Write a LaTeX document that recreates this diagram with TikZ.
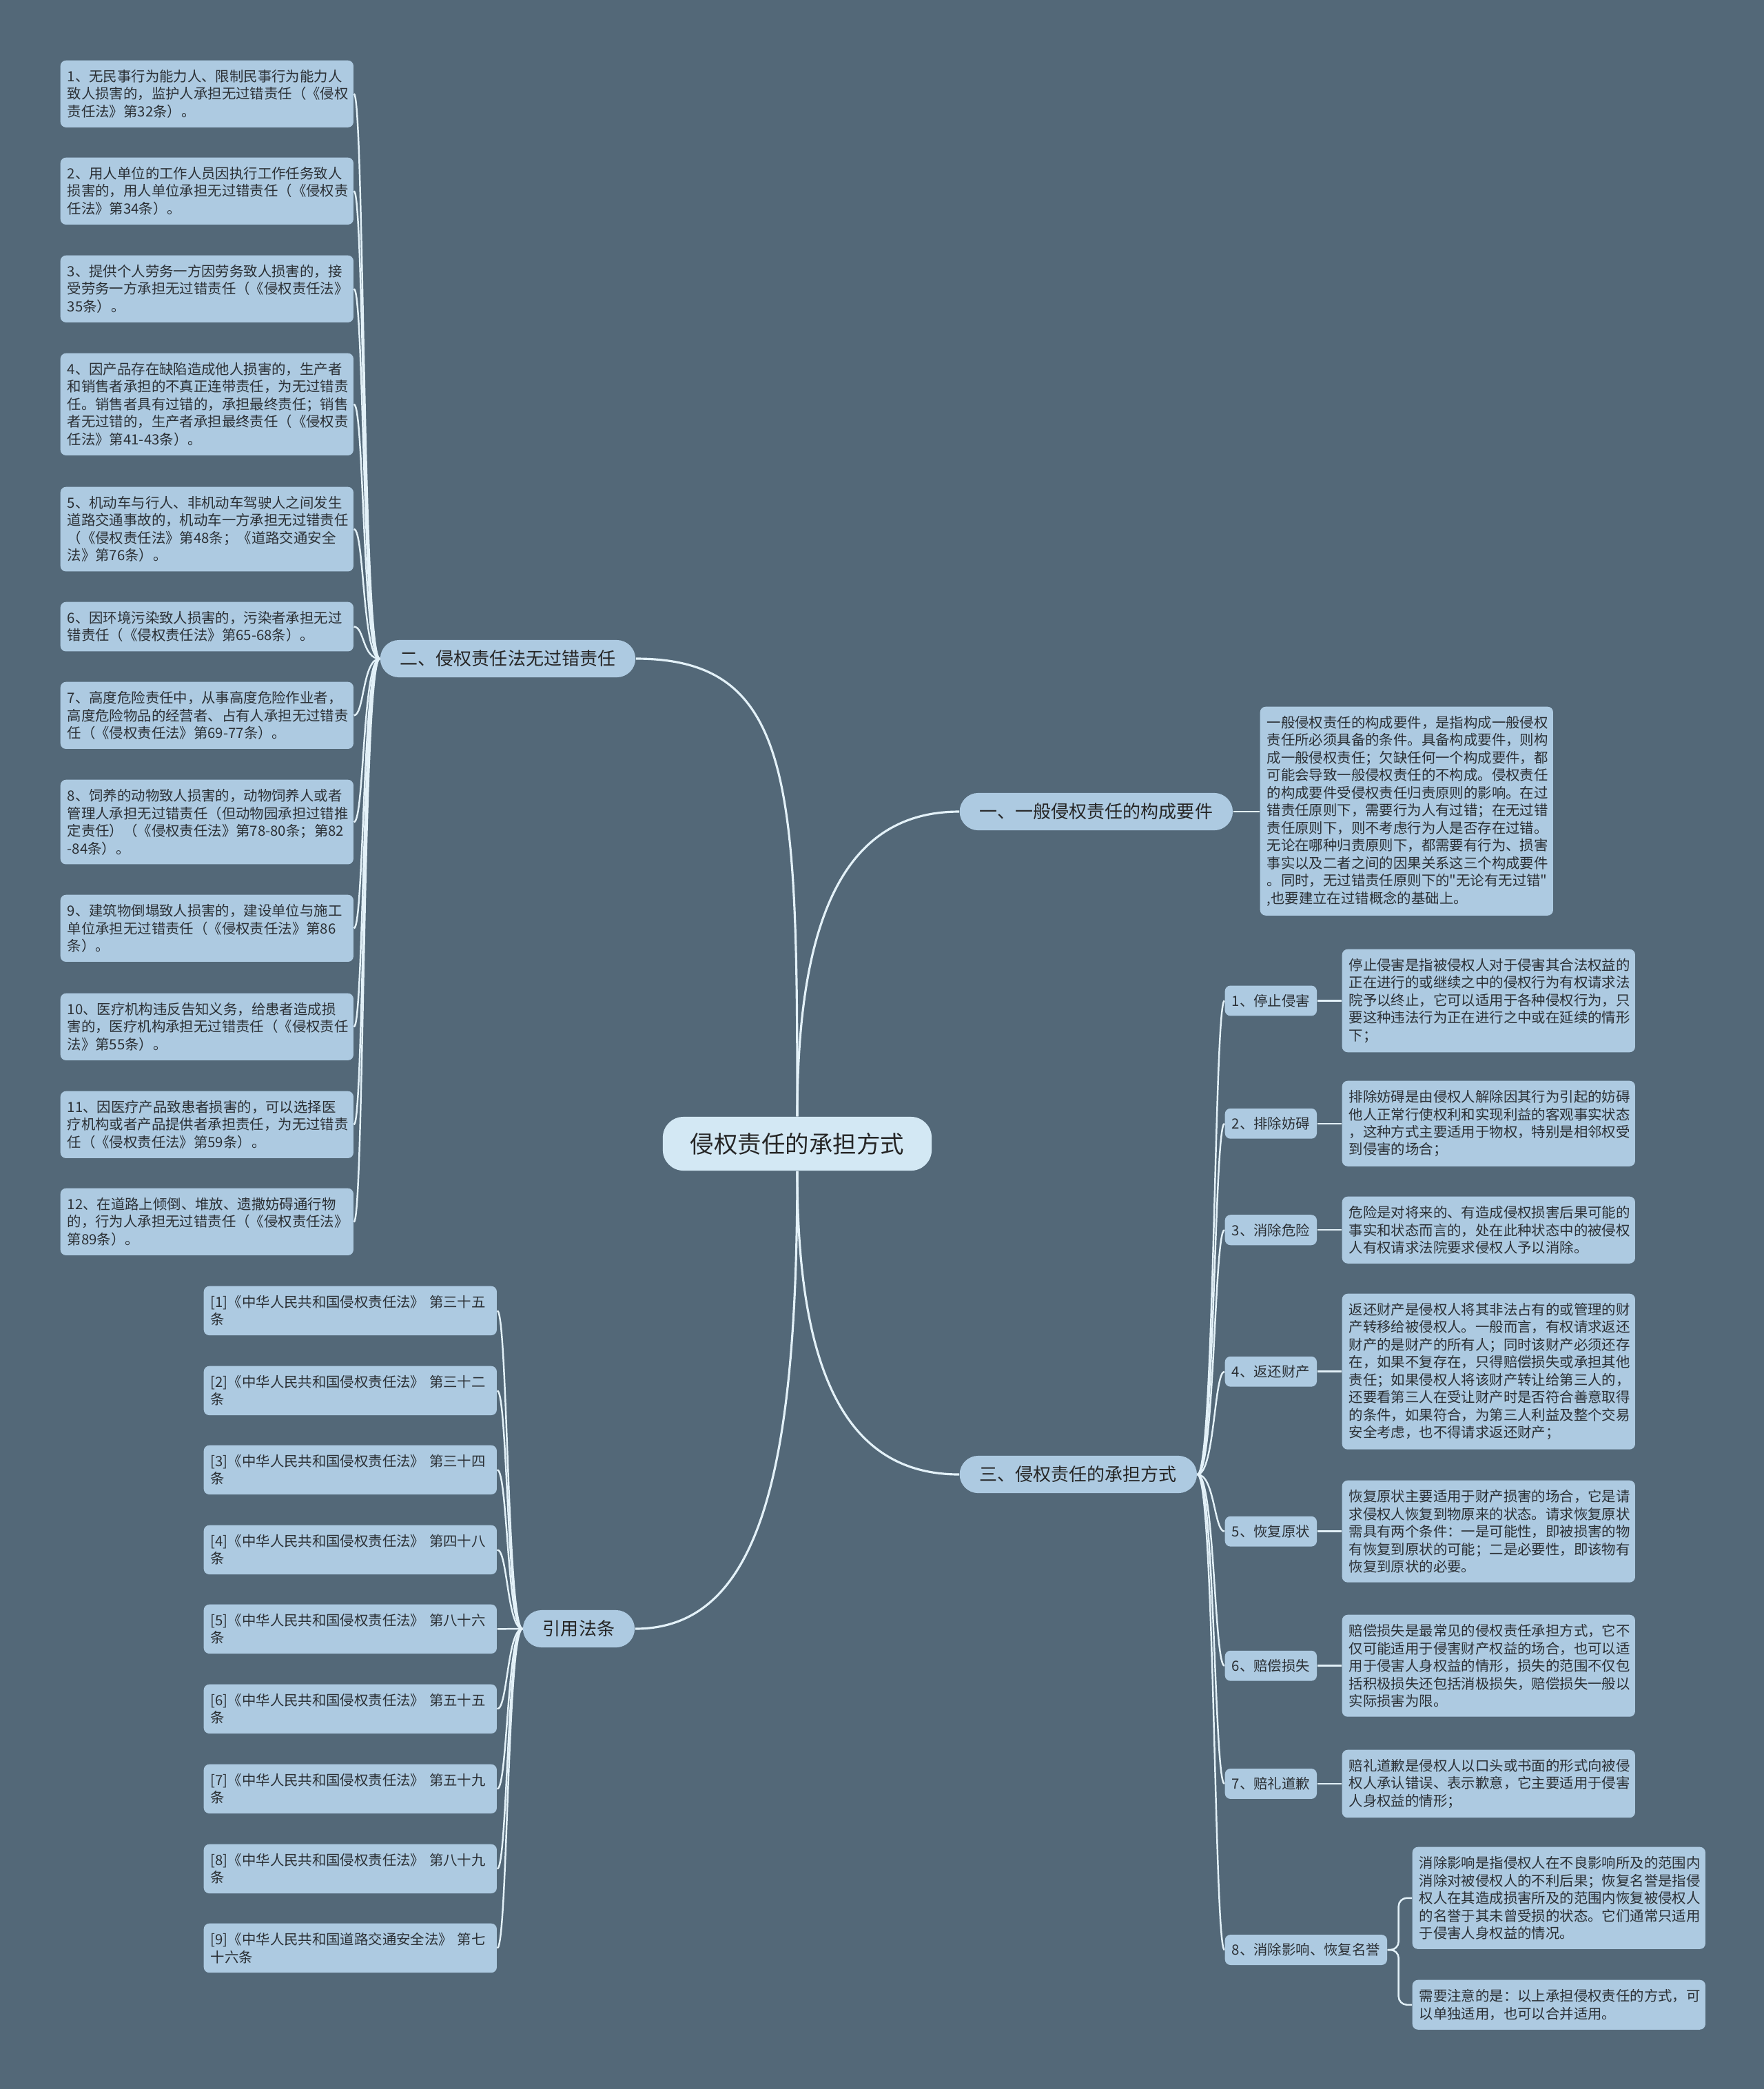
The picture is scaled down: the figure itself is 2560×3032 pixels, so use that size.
\documentclass[tikz,border=0pt]{standalone}
\usepackage{fontspec}
\setmainfont{Noto Sans CJK SC}
\usetikzlibrary{calc}

\definecolor{bgslate}{HTML}{536878}
\definecolor{boxblue}{HTML}{ADCAE1}
\definecolor{rootblue}{HTML}{D3E8F4}
\definecolor{linecol}{HTML}{E3F1F8}
\definecolor{inkgray}{HTML}{2B3035}

\newcommand\straightq{\XeTeXglyph\XeTeXcharglyph34\relax}

\tikzset{
	leafbox/.style={fill=boxblue, rounded corners=0.08cm, text=inkgray, font=\fontsize{5.8}{7.25}\selectfont,
		align=left, text width=4.05cm, inner xsep=0.1cm, inner ysep=0.135cm, anchor=north west},
	tagbox/.style={fill=boxblue, rounded corners=0.08cm, text=inkgray, font=\fontsize{5.8}{7.25}\selectfont,
		inner xsep=0.1cm, inner ysep=0.125cm, anchor=west},
	branchbox/.style={fill=boxblue, rounded corners=0.27cm, text=black!85, font=\fontsize{7.4}{9}\selectfont,
		inner xsep=0.29cm, inner ysep=0.15cm},
	rootbox/.style={fill=rootblue, rounded corners=0.3cm, text=black!85, font=\fontsize{9.8}{12}\selectfont,
		inner xsep=0.4cm, inner ysep=0.23cm},
	trunkline/.style={draw=linecol, line width=0.9pt},
	twigline/.style={draw=linecol, line width=0.7pt},
}

\begin{document}
\begin{tikzpicture}[x=0.01cm, y=-0.01cm]
		%%%%% START %%%%%
		\fill[bgslate] (0,0) rectangle (2560,3032);
		\useasboundingbox (0,0) rectangle (2560,3032);
		
		\node[rootbox] (root) at (1157,1660) {侵权责任的承担方式};
		
		\node[branchbox] (b2) at (737,956) {二、侵权责任法无过错责任};
		\node[branchbox, anchor=west] (b1) at (1392,1178) {一、一般侵权责任的构成要件};
		\node[branchbox, anchor=west] (b3) at (1392,2140) {三、侵权责任的承担方式};
		\node[branchbox] (refs) at (840,2364) {引用法条};
		
		\draw[trunkline] (root.north) .. controls +(0,-480) and +(230,0) .. (b2.east);
		\draw[trunkline] (root.north) .. controls +(0,-300) and +(-160,0) .. (b1.west);
		\draw[trunkline] (root.south) .. controls +(0,300) and +(-160,0) .. (b3.west);
		\draw[trunkline] (root.south) .. controls +(0,440) and +(180,0) .. (refs.east);
		
		% no-fault cases
		\node[leafbox] (n1) at (87,87) {1、无民事行为能力人、限制民事行为能力人\\致人损害的，监护人承担无过错责任（《侵权\\责任法》第32条）。};
		\node[leafbox] (n2) at (87,228) {2、用人单位的工作人员因执行工作任务致人\\损害的，用人单位承担无过错责任（《侵权责\\任法》第34条）。};
		\node[leafbox] (n3) at (87,370) {3、提供个人劳务一方因劳务致人损害的，接\\受劳务一方承担无过错责任（《侵权责任法》\\35条）。};
		\node[leafbox] (n4) at (87,512) {4、因产品存在缺陷造成他人损害的，生产者\\和销售者承担的不真正连带责任，为无过错责\\任。销售者具有过错的，承担最终责任；销售\\者无过错的，生产者承担最终责任（《侵权责\\任法》第41-43条）。};
		\node[leafbox] (n5) at (87,706) {5、机动车与行人、非机动车驾驶人之间发生\\道路交通事故的，机动车一方承担无过错责任\\（《侵权责任法》第48条；《道路交通安全\\法》第76条）。};
		\node[leafbox] (n6) at (87,873) {6、因环境污染致人损害的，污染者承担无过\\错责任（《侵权责任法》第65-68条）。};
		\node[leafbox] (n7) at (87,989) {7、高度危险责任中，从事高度危险作业者，\\高度危险物品的经营者、占有人承担无过错责\\任（《侵权责任法》第69-77条）。};
		\node[leafbox] (n8) at (87,1131) {8、饲养的动物致人损害的，动物饲养人或者\\管理人承担无过错责任（但动物园承担过错推\\定责任）（《侵权责任法》第78-80条；第82\\-84条）。};
		\node[leafbox] (n9) at (87,1298) {9、建筑物倒塌致人损害的，建设单位与施工\\单位承担无过错责任（《侵权责任法》第86\\条）。};
		\node[leafbox] (n10) at (87,1441) {10、医疗机构违反告知义务，给患者造成损\\害的，医疗机构承担无过错责任（《侵权责任\\法》第55条）。};
		\node[leafbox] (n11) at (87,1583) {11、因医疗产品致患者损害的，可以选择医\\疗机构或者产品提供者承担责任，为无过错责\\任（《侵权责任法》第59条）。};
		\node[leafbox] (n12) at (87,1724) {12、在道路上倾倒、堆放、遗撒妨碍通行物\\的，行为人承担无过错责任（《侵权责任法》\\第89条）。};
		
		\draw[twigline] (b2.west) .. controls +(-25,0) and +(15,0) .. (n1.east);
		\draw[twigline] (b2.west) .. controls +(-25,0) and +(15,0) .. (n2.east);
		\draw[twigline] (b2.west) .. controls +(-25,0) and +(15,0) .. (n3.east);
		\draw[twigline] (b2.west) .. controls +(-25,0) and +(15,0) .. (n4.east);
		\draw[twigline] (b2.west) .. controls +(-25,0) and +(15,0) .. (n5.east);
		\draw[twigline] (b2.west) .. controls +(-25,0) and +(15,0) .. (n6.east);
		\draw[twigline] (b2.west) .. controls +(-25,0) and +(15,0) .. (n7.east);
		\draw[twigline] (b2.west) .. controls +(-25,0) and +(15,0) .. (n8.east);
		\draw[twigline] (b2.west) .. controls +(-25,0) and +(15,0) .. (n9.east);
		\draw[twigline] (b2.west) .. controls +(-25,0) and +(15,0) .. (n10.east);
		\draw[twigline] (b2.west) .. controls +(-25,0) and +(15,0) .. (n11.east);
		\draw[twigline] (b2.west) .. controls +(-25,0) and +(15,0) .. (n12.east);
		
		% general tort elements
		\node[leafbox] (dg) at (1828,1025) {一般侵权责任的构成要件，是指构成一般侵权\\责任所必须具备的条件。具备构成要件，则构\\成一般侵权责任；欠缺任何一个构成要件，都\\可能会导致一般侵权责任的不构成。侵权责任\\的构成要件受侵权责任归责原则的影响。在过\\错责任原则下，需要行为人有过错；在无过错\\责任原则下，则不考虑行为人是否存在过错。\\无论在哪种归责原则下，都需要有行为、损害\\事实以及二者之间的因果关系这三个构成要件\\。同时，无过错责任原则下的\straightq 无论有无过错\straightq\\,也要建立在过错概念的基础上。};
		\draw[twigline] (b1.east) -- (b1.east -| dg.west);
		
		% ways of bearing liability
		\node[leafbox] (d1) at (1947,1377) {停止侵害是指被侵权人对于侵害其合法权益的\\正在进行的或继续之中的侵权行为有权请求法\\院予以终止，它可以适用于各种侵权行为，只\\要这种违法行为正在进行之中或在延续的情形\\下；};
		\node[leafbox] (d2) at (1947,1568) {排除妨碍是由侵权人解除因其行为引起的妨碍\\他人正常行使权利和实现利益的客观事实状态\\，这种方式主要适用于物权，特别是相邻权受\\到侵害的场合；};
		\node[leafbox] (d3) at (1947,1736) {危险是对将来的、有造成侵权损害后果可能的\\事实和状态而言的，处在此种状态中的被侵权\\人有权请求法院要求侵权人予以消除。};
		\node[leafbox] (d4) at (1947,1877) {返还财产是侵权人将其非法占有的或管理的财\\产转移给被侵权人。一般而言，有权请求返还\\财产的是财产的所有人；同时该财产必须还存\\在，如果不复存在，只得赔偿损失或承担其他\\责任；如果侵权人将该财产转让给第三人的，\\还要看第三人在受让财产时是否符合善意取得\\的条件，如果符合，为第三人利益及整个交易\\安全考虑，也不得请求返还财产；};
		\node[leafbox] (d5) at (1947,2148) {恢复原状主要适用于财产损害的场合，它是请\\求侵权人恢复到物原来的状态。请求恢复原状\\需具有两个条件：一是可能性，即被损害的物\\有恢复到原状的可能；二是必要性，即该物有\\恢复到原状的必要。};
		\node[leafbox] (d6) at (1947,2343) {赔偿损失是最常见的侵权责任承担方式，它不\\仅可能适用于侵害财产权益的场合，也可以适\\用于侵害人身权益的情形，损失的范围不仅包\\括积极损失还包括消极损失，赔偿损失一般以\\实际损害为限。};
		\node[leafbox] (d7) at (1947,2539) {赔礼道歉是侵权人以口头或书面的形式向被侵\\权人承认错误、表示歉意，它主要适用于侵害\\人身权益的情形；};
		\node[leafbox] (d8a) at (2049,2680) {消除影响是指侵权人在不良影响所及的范围内\\消除对被侵权人的不利后果；恢复名誉是指侵\\权人在其造成损害所及的范围内恢复被侵权人\\的名誉于其未曾受损的状态。它们通常只适用\\于侵害人身权益的情况。};
		\node[leafbox] (d8b) at (2049,2873) {需要注意的是：以上承担侵权责任的方式，可\\以单独适用，也可以合并适用。};
		
		\coordinate (tagcol) at (1777,0);
		\node[tagbox] (t1) at (d1.west -| tagcol) {1、停止侵害};
		\node[tagbox] (t2) at (d2.west -| tagcol) {2、排除妨碍};
		\node[tagbox] (t3) at (d3.west -| tagcol) {3、消除危险};
		\node[tagbox] (t4) at (d4.west -| tagcol) {4、返还财产};
		\node[tagbox] (t5) at (d5.west -| tagcol) {5、恢复原状};
		\node[tagbox] (t6) at (d6.west -| tagcol) {6、赔偿损失};
		\node[tagbox] (t7) at (d7.west -| tagcol) {7、赔礼道歉};
		\node[tagbox] (t8) at (1777,2830) {8、消除影响、恢复名誉};
		
		\draw[twigline] (b3.east) .. controls +(25,0) and +(-15,0) .. (t1.west);
		\draw[twigline] (b3.east) .. controls +(25,0) and +(-15,0) .. (t2.west);
		\draw[twigline] (b3.east) .. controls +(25,0) and +(-15,0) .. (t3.west);
		\draw[twigline] (b3.east) .. controls +(25,0) and +(-15,0) .. (t4.west);
		\draw[twigline] (b3.east) .. controls +(25,0) and +(-15,0) .. (t5.west);
		\draw[twigline] (b3.east) .. controls +(25,0) and +(-15,0) .. (t6.west);
		\draw[twigline] (b3.east) .. controls +(25,0) and +(-15,0) .. (t7.west);
		\draw[twigline] (b3.east) .. controls +(25,0) and +(-15,0) .. (t8.west);
		
		\draw[twigline] (t1.east) -- (d1.west);
		\draw[twigline] (t2.east) -- (d2.west);
		\draw[twigline] (t3.east) -- (d3.west);
		\draw[twigline] (t4.east) -- (d4.west);
		\draw[twigline] (t5.east) -- (d5.west);
		\draw[twigline] (t6.east) -- (d6.west);
		\draw[twigline] (t7.east) -- (d7.west);
		\draw[twigline, rounded corners=0.12cm] (t8.east) -- ++(16,0) |- (d8a.west);
		\draw[twigline, rounded corners=0.12cm] (t8.east) -- ++(16,0) |- (d8b.west);
		
		% cited articles
		\node[leafbox] (c1) at (295,1866) {[1]《中华人民共和国侵权责任法》 第三十五\\条};
		\node[leafbox] (c2) at (295,1982) {[2]《中华人民共和国侵权责任法》 第三十二\\条};
		\node[leafbox] (c3) at (295,2097) {[3]《中华人民共和国侵权责任法》 第三十四\\条};
		\node[leafbox] (c4) at (295,2213) {[4]《中华人民共和国侵权责任法》 第四十八\\条};
		\node[leafbox] (c5) at (295,2328) {[5]《中华人民共和国侵权责任法》 第八十六\\条};
		\node[leafbox] (c6) at (295,2444) {[6]《中华人民共和国侵权责任法》 第五十五\\条};
		\node[leafbox] (c7) at (295,2560) {[7]《中华人民共和国侵权责任法》 第五十九\\条};
		\node[leafbox] (c8) at (295,2676) {[8]《中华人民共和国侵权责任法》 第八十九\\条};
		\node[leafbox] (c9) at (295,2791) {[9]《中华人民共和国道路交通安全法》 第七\\十六条};
		
		\draw[twigline] (refs.west) .. controls +(-22,0) and +(15,0) .. (c1.east);
		\draw[twigline] (refs.west) .. controls +(-22,0) and +(15,0) .. (c2.east);
		\draw[twigline] (refs.west) .. controls +(-22,0) and +(15,0) .. (c3.east);
		\draw[twigline] (refs.west) .. controls +(-22,0) and +(15,0) .. (c4.east);
		\draw[twigline] (refs.west) .. controls +(-22,0) and +(15,0) .. (c5.east);
		\draw[twigline] (refs.west) .. controls +(-22,0) and +(15,0) .. (c6.east);
		\draw[twigline] (refs.west) .. controls +(-22,0) and +(15,0) .. (c7.east);
		\draw[twigline] (refs.west) .. controls +(-22,0) and +(15,0) .. (c8.east);
		\draw[twigline] (refs.west) .. controls +(-22,0) and +(15,0) .. (c9.east);
		%%%%% END %%%%%
\end{tikzpicture}
\end{document}
